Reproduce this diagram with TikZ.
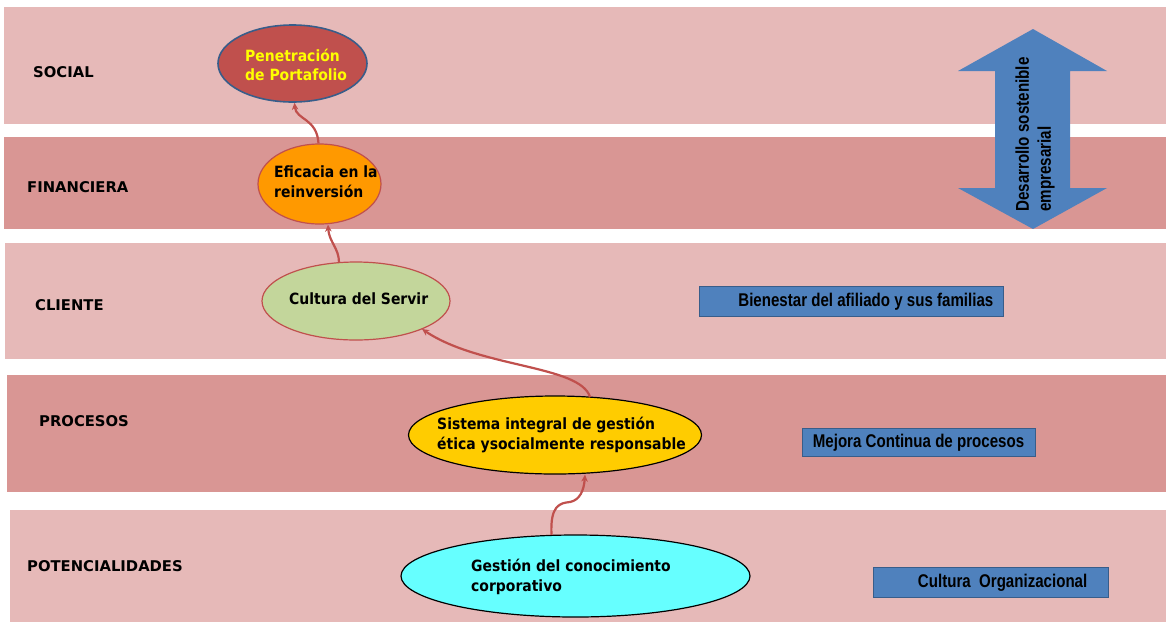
\documentclass[tikz,border=0pt]{standalone}
\usepackage{fontspec}
\usetikzlibrary{arrows.meta,calc,shapes.geometric}
\newfontfamily\lblfont{DejaVu Sans}
\newfontfamily\ellfont{DejaVu Sans}[FakeStretch=0.9]
\newfontfamily\narfont{Liberation Sans}[FakeStretch=0.82]
\definecolor{bandlight}{HTML}{E6B9B8}
\definecolor{banddark}{HTML}{D99694}
\definecolor{redc}{HTML}{C0504D}
\definecolor{blueacc}{HTML}{4F81BD}
\definecolor{bluedark}{HTML}{385D8A}
\definecolor{orangec}{HTML}{FF9900}
\definecolor{greenc}{HTML}{C3D69B}
\definecolor{goldc}{HTML}{FFCC00}
\definecolor{cyanc}{HTML}{66FFFF}
\definecolor{yellowt}{HTML}{FFFF00}
\tikzset{
  lbl/.style={font=\lblfont\bfseries\fontsize{14.8}{17}\selectfont, inner sep=0, anchor=west},
  ell/.style={ellipse, inner sep=0, line width=1.2},
  etxt/.style={font=\ellfont\bfseries\fontsize{15.5}{19.5}\selectfont, inner sep=0, align=left, anchor=west},
  conn/.style={draw=redc, line width=2.2, -{Stealth[length=7,width=6.5]}},
  rectbox/.style={fill=blueacc, draw=bluedark, line width=1, inner sep=0},
  rtxt/.style={inner sep=0, font=\narfont\bfseries\fontsize{18.4}{21}\selectfont},
}
\begin{document}
\begin{tikzpicture}[x=1pt,y=-1pt]
\useasboundingbox (0,0) rectangle (1169,622);
\fill[white] (0,0) rectangle (1169,622);
% bands
\fill[bandlight] (4,7) rectangle (1166,124);
\fill[banddark] (4,137) rectangle (1166,229);
\fill[bandlight] (5,243) rectangle (1166,359);
\fill[banddark] (7,375) rectangle (1166,492);
\fill[bandlight] (10,510) rectangle (1166,622);
% labels
\node[lbl] (lsoc) at (33,72) {SOCIAL};
\node[lbl] (lfin) at (27,187) {FINANCIERA};
\node[lbl] (lcli) at (35,305) {CLIENTE};
\node[lbl] (lpro) at (39,421) {PROCESOS};
\node[lbl] (lpot) at (27,566) {POTENCIALIDADES};
% ellipses
\node[ell, fill=redc, draw=bluedark, line width=1.6, minimum width=149, minimum height=77] (pen) at (292.5,63.5) {};
\node[ell, fill=orangec, draw=redc, minimum width=123, minimum height=80] (ef) at (319.5,184) {};
\node[ell, fill=greenc, draw=redc, minimum width=188, minimum height=78] (cs) at (356,301) {};
\node[ell, fill=goldc, draw=black, minimum width=293, minimum height=78] (sis) at (555,435) {};
\node[ell, fill=cyanc, draw=black, minimum width=349, minimum height=82] (gc) at (575.5,576) {};
% ellipse texts
\node[etxt, text=yellowt] (tpen) at (245,65) {Penetración\\de Portafolio};
\node[etxt] (tef) at (274,181.5) {Eficacia en la\\reinversión};
\node[etxt] (tcs) at (289,299) {Cultura del Servir};
\node[etxt] (tsis) at (437,435) {Sistema integral de gestión\\ética ysocialmente responsable};
\node[etxt] (tgc) at (471,577) {Gestión del conocimiento\\corporativo};
% connectors
\draw[conn] ($(gc.north)+(-24,0.5)$) .. controls (550,505) and (560,503) .. (570,502)
   .. controls (580,500) and (584,490) .. ($(sis.south)+(30,0)$);
\draw[conn] ($(sis.center)+(35,-38)$) .. controls (580,365) and (480,368) .. ($(cs.center)+(66,28)$);
\draw[conn] ($(cs.center)+(-17,-38.5)$) .. controls (339,248) and (329,242) .. ($(ef.south)+(8.5,0)$);
\draw[conn] ($(ef.north)+(-1,0)$) .. controls (317,118) and (296,120) .. ($(pen.south)+(2,0)$);
% double arrow
\fill[blueacc] (1033,29) -- (1107,71) -- (1070,71) -- (1070,188) -- (1107,188)
  -- (1033,229) -- (958,188) -- (995,188) -- (995,71) -- (958,71) -- cycle;
\node[rotate=90, anchor=west, inner sep=0, align=left,
  font=\narfont\bfseries\fontsize{18.5}{22}\selectfont] (dse) at (1035,212)
  {Desarrollo sostenible\\empresarial};
% rectangles
\node[rectbox, minimum width=304, minimum height=30] (bien) at (851,301) {};
\node[rtxt, anchor=east] (tbien) at ($(bien.east)+(-10,1)$) {Bienestar del afiliado y sus familias};
\node[rectbox, minimum width=233, minimum height=28] (mej) at (918.5,442) {};
\node[rtxt] (tmej) at ($(mej.center)+(0,1)$) {Mejora Continua de procesos};
\node[rectbox, minimum width=235, minimum height=30] (corg) at (990.5,582) {};
\node[rtxt, anchor=east] (tcorg) at ($(corg.east)+(-21,1)$) {Cultura\ \ Organizacional};
\end{tikzpicture}
\end{document}
